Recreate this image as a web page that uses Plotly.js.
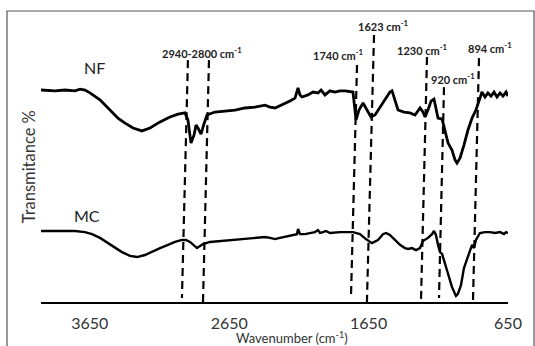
<!DOCTYPE html>
<html>
<head>
<meta charset="utf-8">
<script src="https://cdn.plot.ly/plotly-3.0.1.min.js"></script>
<style>
html,body{margin:0;padding:0;background:#fff;}
#chart{width:535px;height:346px;}
</style>
</head>
<body>
<div id="chart"></div>
<script>
// ---- Data ----
const nfWavenumber = [4000,3900,3828,3756,3720,3684,3649,3577,3505,3448,3397,3340,3276,3218,3146,3075,3017,2967,2946,2924,2902,2888,2874,2852,2831,2809,2752,2680,2608,2537,2465,2393,2357,2321,2286,2214,2178,2156,2142,2128,2085,2049,2013,1991,1963,1927,1891,1855,1819,1783,1762,1740,1719,1690,1662,1633,1604,1568,1525,1497,1482,1461,1439,1396,1353,1317,1281,1260,1245,1224,1202,1181,1167,1152,1123,1102,1080,1052,1030,1016,994,966,937,908,880,851,837,815,794,772,750,729,707,686,664,650];
const nfTransmittance = [73.1,72.8,73.1,72.8,73.4,73.1,72.1,69.7,66.2,63.4,61.7,60.0,59.0,60.0,62.1,63.8,64.8,65.2,62.8,54.8,57.6,61.0,60.0,57.9,61.4,64.5,65.5,65.9,66.2,66.9,67.2,67.9,67.2,66.9,67.6,69.3,70.3,73.8,71.4,70.7,71.4,72.4,72.1,73.1,71.4,72.8,72.4,72.8,72.8,72.4,72.4,62.8,66.2,68.6,66.2,63.8,64.5,67.2,70.3,72.4,72.8,69.7,66.2,65.5,65.2,64.5,66.9,65.5,63.8,66.2,69.3,70.0,66.9,63.4,63.1,59.3,54.8,52.4,49.0,47.9,49.7,54.1,59.3,63.4,66.2,70.3,72.4,70.7,72.1,71.0,72.4,70.7,72.1,71.0,72.4,71.0];

const mcWavenumber = [4000,3864,3756,3684,3634,3577,3519,3469,3419,3362,3311,3254,3197,3146,3089,3039,2989,2960,2931,2902,2881,2859,2838,2788,2716,2644,2572,2465,2393,2357,2321,2286,2214,2164,2156,2142,2106,2070,2035,2013,1999,1977,1956,1927,1855,1762,1712,1669,1626,1583,1547,1525,1497,1461,1425,1389,1367,1339,1310,1281,1260,1224,1195,1181,1167,1152,1138,1123,1102,1080,1052,1030,1023,1009,987,966,930,908,894,880,851,815,779,743,707,679,664,650];
const mcTransmittance = [24.5,24.5,24.5,24.1,23.4,22.1,20.3,18.6,17.2,15.9,15.5,16.2,17.6,18.6,19.7,20.7,21.4,21.4,20.7,19.3,18.6,19.3,20.0,20.7,21.0,21.4,21.7,22.1,22.4,22.1,21.7,22.1,22.8,23.4,25.2,23.4,23.4,23.8,24.1,24.8,23.8,24.1,24.5,23.8,24.1,24.1,23.4,21.7,20.3,21.4,23.4,23.8,23.1,21.4,19.7,18.6,18.3,18.6,17.9,18.6,21.0,22.1,23.4,24.5,23.1,19.7,17.2,16.6,13.1,9.3,5.2,2.8,2.1,2.8,5.9,11.7,16.9,19.7,18.6,21.4,23.8,24.1,24.1,23.8,24.1,23.4,24.1,23.8];

const tickValues = [3650, 2650, 1650, 650];
const tickLabels = ["3650", "2650", "1650", "650"];

// band marker lines (hand drawn, slightly slanted): top & bottom wavenumbers, top & bottom heights
const bandNames = ["2940", "2800", "1740", "1623", "1230", "920", "894"];
const bandTopWn = [2946, 2795, 1733, 1611, 1231, 1109, 858];
const bandBottomWn = [2989, 2838, 1776, 1662, 1274, 1145, 901];
const bandTopT = [83.4, 83.4, 81.7, 92.1, 84.5, 74.1, 84.1];
const bandBottomT = [1.4, 0, 2.4, 0, 0.7, 1.4, 0.7];

const labelTexts = ["2940-2800 cm<sup>-1</sup>", "1740 cm<sup>-1</sup>", "1623 cm<sup>-1</sup>", "1230 cm<sup>-1</sup>", "920 cm<sup>-1</sup>", "894 cm<sup>-1</sup>"];
const labelWn = [2845, 1870, 1547, 1267, 1045, 779];
const labelT = [85.9, 85.5, 95.2, 87.2, 76.9, 87.9];

const seriesNames = ["NF", "MC"];
const seriesLabelWn = [3613, 3670];
const seriesLabelT = [81.0, 30.0];

// ---- Build chart ----
const FONT = "Lato, 'Open Sans', sans-serif";
const traces = [
  {x: nfWavenumber, y: nfTransmittance, mode: "lines", name: "NF",
   line: {color: "#000", width: 2.8}, hoverinfo: "skip"},
  {x: mcWavenumber, y: mcTransmittance, mode: "lines", name: "MC",
   line: {color: "#000", width: 2.4}, hoverinfo: "skip"}
];

const shapes = bandNames.map((n, i) => ({
  type: "line", xref: "x", yref: "y",
  x0: bandTopWn[i], y0: bandTopT[i], x1: bandBottomWn[i], y1: bandBottomT[i],
  line: {color: "#000", width: 2.2, dash: "8px,5px"}
}));
// outer frame
shapes.push({type: "rect", xref: "paper", yref: "paper",
  x0: -0.0728, x1: 1.0557, y0: -0.2, y1: 1.0034,
  line: {color: "#555", width: 1.2}, fillcolor: "rgba(0,0,0,0)"});

const annotations = labelTexts.map((t, i) => ({
  text: t, x: labelWn[i], y: labelT[i], xref: "x", yref: "y",
  showarrow: false, font: {family: FONT, size: 11, color: "#222", weight: "bold"},
  xanchor: "center", yanchor: "middle"
}));
seriesNames.forEach((n, i) => annotations.push({
  text: n, x: seriesLabelWn[i], y: seriesLabelT[i], xref: "x", yref: "y",
  showarrow: false, font: {family: FONT, size: 16, color: "#222"},
  xanchor: "center", yanchor: "middle"
}));
annotations.push({
  text: "Wavenumber (cm<sup>-1</sup>)", xref: "paper", yref: "paper",
  x: 0.5375, y: -0.121, showarrow: false, xanchor: "center", yanchor: "middle",
  font: {family: FONT, size: 13, color: "#333"}
});
annotations.push({
  text: "Transmitance %", xref: "paper", yref: "paper",
  x: -0.0257, y: 0.468, textangle: -90, showarrow: false, xanchor: "center", yanchor: "middle",
  font: {family: FONT, size: 16.5, color: "#333"}
});

const layout = {
  width: 535, height: 346,
  margin: {l: 41, r: 27, t: 12, b: 44, pad: 0},
  paper_bgcolor: "#fff", plot_bgcolor: "#fff",
  showlegend: false,
  xaxis: {
    range: [4000, 650], autorange: false,
    showgrid: false, zeroline: false,
    showline: true, linecolor: "#000", linewidth: 2,
    ticks: "", tickmode: "array", tickvals: tickValues, ticktext: tickLabels,
    ticklabelstandoff: 6,
    tickfont: {family: FONT, size: 16, color: "#333"}
  },
  yaxis: {
    range: [0, 100], autorange: false,
    showgrid: false, zeroline: false, showline: false, showticklabels: false, ticks: ""
  },
  shapes: shapes,
  annotations: annotations
};

Plotly.newPlot("chart", traces, layout, {staticPlot: true, displayModeBar: false});
</script>
</body>
</html>
